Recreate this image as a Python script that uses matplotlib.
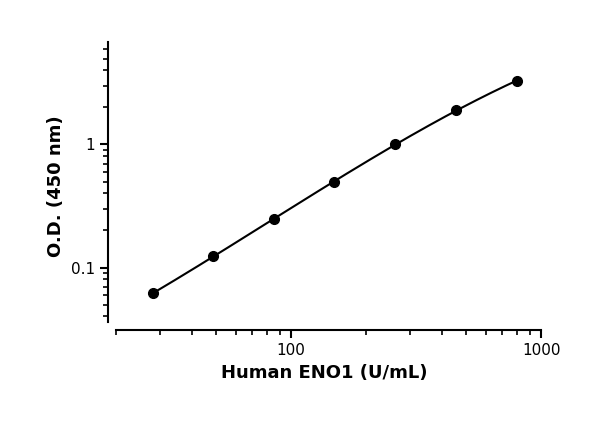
import numpy as np
import matplotlib
matplotlib.use("Agg")
import matplotlib.pyplot as plt
from matplotlib.ticker import LogLocator, NullFormatter, FixedLocator, FixedFormatter

conc = [27.9, 48.8, 85.3, 149, 261, 457, 800]
od = [0.0615, 0.123, 0.25, 0.50, 1.0, 1.89, 3.31]
xticks = [100, 1000]
xticklabels = ["100", "1000"]
yticks = [0.1, 1]
yticklabels = ["0.1", "1"]

fig = plt.figure(figsize=(6, 4.21), dpi=100)
ax = fig.add_axes([0.18, 0.216, 0.722, 0.684])
ax.set_xscale("log"); ax.set_yscale("log")

lx, ly = np.log10(conc), np.log10(od)
c = np.polyfit(lx, ly, 3)
xs = np.linspace(lx[0], lx[-1], 200)
ax.plot(10**xs, 10**np.polyval(c, xs), color="black", lw=1.5)
ax.plot(conc, od, "o", color="black", ms=7)

ax.set_xlim(18.5, 1000)
ax.set_ylim(0.031, 6.8)
for s in ["top", "right"]:
    ax.spines[s].set_visible(False)
ax.spines["bottom"].set_bounds(20, 1000)
ax.spines["left"].set_bounds(0.036, 6.8)
for s in ["bottom", "left"]:
    ax.spines[s].set_linewidth(1.5)

ax.xaxis.set_major_locator(FixedLocator(xticks))
ax.xaxis.set_major_formatter(FixedFormatter(xticklabels))
ax.yaxis.set_major_locator(FixedLocator(yticks))
ax.yaxis.set_major_formatter(FixedFormatter(yticklabels))
ax.xaxis.set_minor_locator(LogLocator(base=10, subs=np.arange(2, 10)))
ax.yaxis.set_minor_locator(LogLocator(base=10, subs=np.arange(2, 10)))
ax.xaxis.set_minor_formatter(NullFormatter())
ax.yaxis.set_minor_formatter(NullFormatter())
ax.tick_params(which="major", length=6, width=1.5, labelsize=11)
ax.tick_params(which="minor", length=3.5, width=1.2)

ax.set_xlabel("Human ENO1 (U/mL)", fontsize=13, fontweight="bold")
ax.set_ylabel("O.D. (450 nm)", fontsize=13, fontweight="bold")
fig.savefig("out.png", dpi=100)
